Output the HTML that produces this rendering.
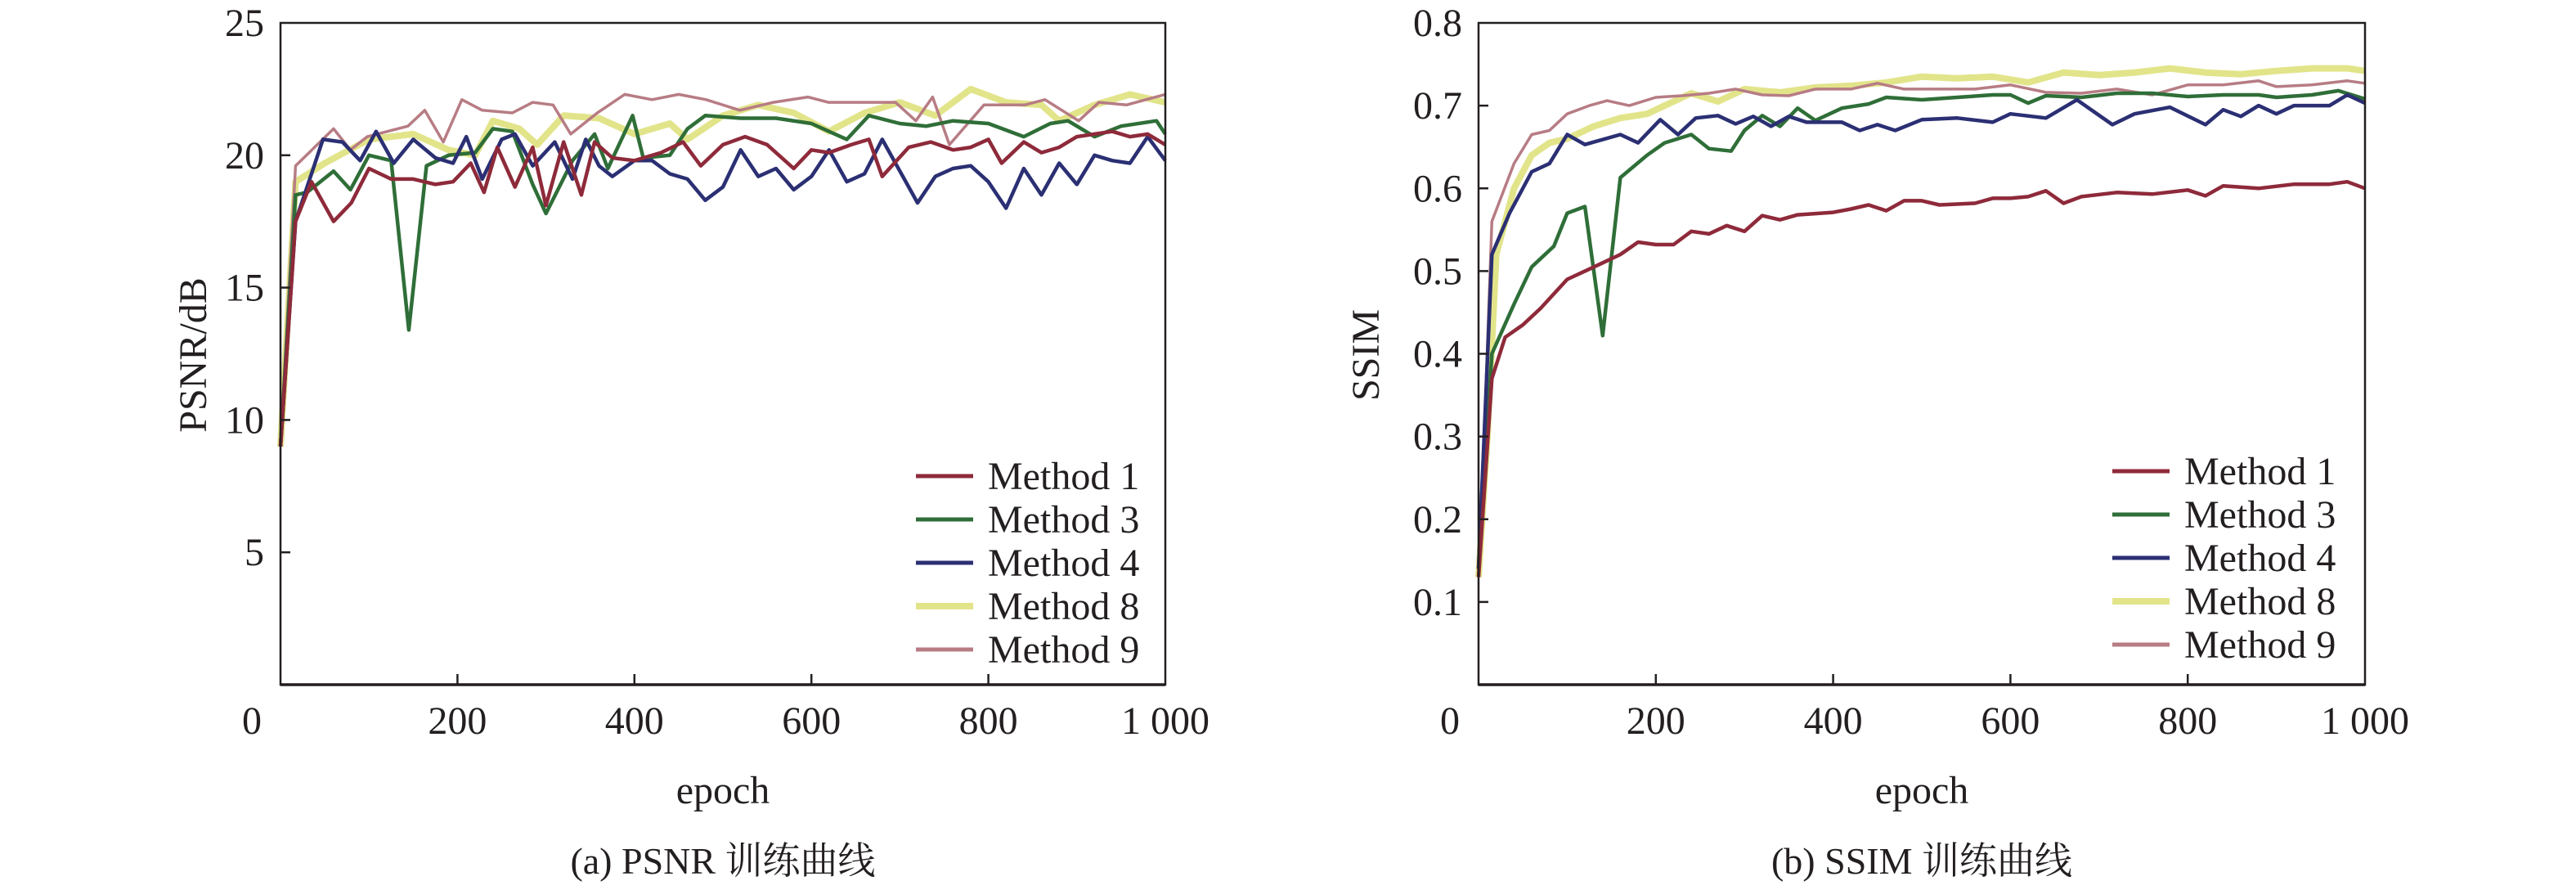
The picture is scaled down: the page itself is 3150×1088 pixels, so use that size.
<!DOCTYPE html>
<html><head><meta charset="utf-8"><style>
html,body{margin:0;padding:0;background:#fff;}
svg{display:block;}
text{font-family:"Liberation Serif","Noto Serif CJK SC","Noto Sans CJK SC",serif;fill:#231f20;}
</style></head><body>
<svg id="fig" width="3150" height="1088" viewBox="0 0 3150 1088" xmlns="http://www.w3.org/2000/svg"></svg>
<script>
const xTicks=[0,200,400,600,800,1000];
const xTickLabels=["0","200","400","600","800","1 000"];
const psnrTicks=[5,10,15,20,25];
const psnrTickLabels=["5","10","15","20","25"];
const ssimTicks=[0.1,0.2,0.3,0.4,0.5,0.6,0.7,0.8];
const ssimTickLabels=["0.1","0.2","0.3","0.4","0.5","0.6","0.7","0.8"];
const methodNames=["Method 1","Method 3","Method 4","Method 8","Method 9"];

const p1x=[0,17,35,60,80,100,125,150,175,195,215,230,245,265,285,300,320,340,355,375,400,430,455,475,500,525,550,580,600,620,645,665,680,710,735,760,780,800,815,840,860,880,900,920,940,960,980,1000];
const p1y=[9,17.5,19.0,17.5,18.2,19.5,19.1,19.1,18.9,19.0,19.7,18.6,20.3,18.8,20.3,18.1,20.5,18.5,20.5,19.9,19.8,20.1,20.5,19.6,20.4,20.7,20.4,19.5,20.2,20.1,20.4,20.6,19.2,20.3,20.5,20.2,20.3,20.6,19.7,20.5,20.1,20.3,20.7,20.8,20.9,20.7,20.8,20.4];
const p3x=[0,17,30,60,79,100,125,145,165,190,220,240,262,285,300,330,355,370,398,410,440,460,480,520,560,600,640,665,700,730,760,800,840,870,890,920,950,990,1000];
const p3y=[9,18.5,18.6,19.4,18.7,20.0,19.8,13.4,19.6,20.0,20.1,21.0,20.9,18.9,17.8,19.8,20.8,19.5,21.5,19.9,20.0,21.0,21.5,21.4,21.4,21.2,20.6,21.5,21.2,21.1,21.3,21.2,20.7,21.2,21.3,20.7,21.1,21.3,20.8];
const p4x=[0,17,30,48,70,90,108,128,150,175,195,210,228,250,265,285,310,330,345,360,375,400,420,440,460,480,500,520,540,560,580,600,620,640,660,680,700,720,740,760,780,800,820,840,860,880,900,920,940,960,980,1000];
const p4y=[9,17.5,18.8,20.6,20.5,19.8,20.9,19.7,20.6,19.9,19.7,20.7,19.1,20.6,20.8,19.6,20.5,19.1,20.6,19.6,19.2,19.8,19.8,19.3,19.1,18.3,18.8,20.2,19.2,19.5,18.7,19.2,20.2,19.0,19.3,20.6,19.4,18.2,19.2,19.5,19.6,19.0,18.0,19.5,18.5,19.7,18.9,20.0,19.8,19.7,20.7,19.8];
const p8x=[0,17,50,100,150,190,220,240,270,290,320,360,400,440,460,500,540,580,620,660,700,740,780,820,860,880,920,960,1000];
const p8y=[9,19.0,19.7,20.6,20.8,20.2,20.0,21.3,21.0,20.4,21.5,21.4,20.8,21.2,20.6,21.5,21.9,21.6,20.9,21.6,22.0,21.5,22.5,22.0,21.9,21.3,21.9,22.3,22.0];
const p9x=[0,17,60,79,98,144,163,184,205,228,262,285,308,328,358,389,420,450,481,519,557,596,619,665,695,718,737,756,795,841,864,902,925,956,1000];
const p9y=[9,19.6,21.0,20.2,20.7,21.1,21.7,20.5,22.1,21.7,21.6,22.0,21.9,20.8,21.6,22.3,22.1,22.3,22.1,21.7,22.0,22.2,22.0,22.0,22.0,21.3,22.2,20.4,21.9,21.9,22.1,21.3,22.0,21.9,22.3];

const s1x=[0,15,30,50,70,100,120,140,160,180,200,220,240,260,280,300,320,340,360,400,420,440,460,480,500,520,560,580,600,620,640,660,680,720,760,800,820,840,880,920,960,980,1000];
const s1y=[0.13,0.37,0.42,0.435,0.455,0.49,0.5,0.51,0.52,0.535,0.532,0.532,0.548,0.545,0.555,0.548,0.567,0.562,0.568,0.571,0.575,0.58,0.573,0.585,0.585,0.58,0.582,0.588,0.588,0.59,0.597,0.582,0.59,0.595,0.593,0.598,0.591,0.603,0.6,0.605,0.605,0.608,0.6];
const s3x=[0,15,40,60,85,100,120,140,160,190,210,240,260,285,300,320,340,360,380,410,440,460,500,540,580,600,620,640,680,720,760,800,840,880,900,940,970,1000];
const s3y=[0.14,0.4,0.46,0.505,0.53,0.57,0.578,0.422,0.613,0.64,0.655,0.665,0.648,0.645,0.67,0.688,0.675,0.697,0.682,0.697,0.702,0.71,0.707,0.71,0.713,0.713,0.703,0.712,0.71,0.715,0.715,0.711,0.713,0.713,0.71,0.713,0.718,0.708];
const s4x=[0,15,35,60,80,100,120,160,180,205,225,245,270,290,310,330,350,370,410,430,450,470,500,540,580,600,640,675,715,740,780,820,840,860,880,900,920,960,980,1000];
const s4y=[0.14,0.52,0.57,0.62,0.63,0.665,0.653,0.665,0.655,0.683,0.665,0.685,0.688,0.678,0.687,0.675,0.687,0.68,0.68,0.67,0.677,0.67,0.683,0.685,0.68,0.69,0.685,0.707,0.677,0.69,0.698,0.677,0.695,0.687,0.7,0.69,0.7,0.7,0.713,0.703];
const s8x=[0,10,20,40,60,80,100,130,160,190,210,240,270,300,340,380,420,460,500,540,580,620,660,700,740,780,820,860,900,940,980,1000];
const s8y=[0.13,0.3,0.52,0.6,0.64,0.655,0.66,0.675,0.685,0.69,0.7,0.715,0.705,0.72,0.716,0.722,0.724,0.728,0.735,0.733,0.735,0.728,0.74,0.737,0.74,0.745,0.74,0.738,0.742,0.745,0.745,0.742];
const s9x=[0,8,15,40,60,80,100,125,145,170,200,230,260,290,320,350,380,420,450,480,520,560,600,640,680,720,760,800,840,880,900,940,980,1000];
const s9y=[0.15,0.35,0.56,0.63,0.665,0.67,0.69,0.70,0.706,0.70,0.71,0.712,0.715,0.72,0.713,0.712,0.72,0.72,0.727,0.72,0.72,0.72,0.725,0.716,0.715,0.72,0.713,0.725,0.725,0.73,0.723,0.725,0.73,0.727];

const colors=["#8e2a3a","#2f6e38","#2b2f73","#e2e48a","#b77c84"];
const widths=[4.5,4.5,4.5,8,3.5];
const NS="http://www.w3.org/2000/svg";
const svg=document.getElementById('fig');
function mk(tag,attrs,parent){const e=document.createElementNS(NS,tag);for(const k in attrs)e.setAttribute(k,attrs[k]);(parent||svg).appendChild(e);return e;}

function panel(cfg){
  const g=mk('g',{});
  
  
  const L=cfg.left,R=cfg.right,T=28,B=837;
  const sx=v=>L+(v-0)/1000*(R-L);
  const sy=v=>B-(v/cfg.ymax)*(B-T);
  const order=[3,4,1,2,0];
  order.forEach(i=>{
    const xs=cfg.xs[i],ys=cfg.ys[i];
    let d='';
    for(let k=0;k<xs.length;k++)d+=(k?'L':'M')+sx(xs[k]).toFixed(1)+' '+sy(ys[k]).toFixed(1);
    const p=mk('path',{d:d,fill:'none',stroke:colors[i],'stroke-width':widths[i],'stroke-linejoin':'round'},g);
    
    
  });
  const fr=mk('path',{d:`M${L} ${T}H${R}V${B}H${L}Z`,fill:'none',stroke:'#231f20','stroke-width':2.5},g);
  
  
  mk('line',{x1:L,x2:R,y1:B,y2:B,stroke:'#231f20','stroke-width':3.5},g);
  xTicks.forEach((t,i)=>{
    if(t>0&&t<1000)mk('line',{x1:sx(t),x2:sx(t),y1:B,y2:B-13,stroke:'#231f20','stroke-width':2.5},g);
    const tx=mk('text',{x:t===0?L-35:sx(t),y:897,'font-size':48,'text-anchor':'middle'},g);
    tx.textContent=xTickLabels[i];
    
    
  });
  cfg.yt.forEach((t,i)=>{
    if(i<cfg.yt.length-1)mk('line',{x1:L,x2:L+12,y1:sy(t),y2:sy(t),stroke:'#231f20','stroke-width':2.5},g);
    const tx=mk('text',{x:L-20,y:sy(t)+16,'font-size':48,'text-anchor':'end'},g);
    tx.textContent=cfg.ytl[i];
    
    
  });
  const xl=mk('text',{x:(L+R)/2,y:982,'font-size':48,'text-anchor':'middle'},g);
  xl.textContent='epoch';
  
  
  const yl=mk('text',{x:0,y:0,'font-size':48,'text-anchor':'middle',transform:`translate(${cfg.ylx},434) rotate(-90)`},g);
  yl.textContent=cfg.ylabel;
  
  
  const cap=mk('text',{x:(L+R)/2,y:1068,'font-size':46,'text-anchor':'middle'},g);
  cap.textContent=cfg.caption;
  
  
  methodNames.forEach((n,i)=>{
    const yy=cfg.legY+i*53;
    const ln=mk('line',{x1:cfg.legX,x2:cfg.legX+70,y1:yy,y2:yy,stroke:colors[i],'stroke-width':i===3?8:5},g);
    
    
    const tx=mk('text',{x:cfg.legX+88,y:yy+16,'font-size':48},g);
    tx.textContent=n;
    
    
  });
}
panel({name:'psnr-chart',left:343,right:1425,ymax:25,yt:psnrTicks,ytl:psnrTickLabels,xs:[p1x,p3x,p4x,p8x,p9x],ys:[p1y,p3y,p4y,p8y,p9y],ylabel:'PSNR/dB',ylx:252,caption:'(a) PSNR 训练曲线',legX:1120,legY:582});
panel({name:'ssim-chart',left:1808,right:2892,ymax:0.8,yt:ssimTicks,ytl:ssimTickLabels,xs:[s1x,s3x,s4x,s8x,s9x],ys:[s1y,s3y,s4y,s8y,s9y],ylabel:'SSIM',ylx:1686,caption:'(b) SSIM 训练曲线',legX:2583,legY:576});
</script>
</body></html>
